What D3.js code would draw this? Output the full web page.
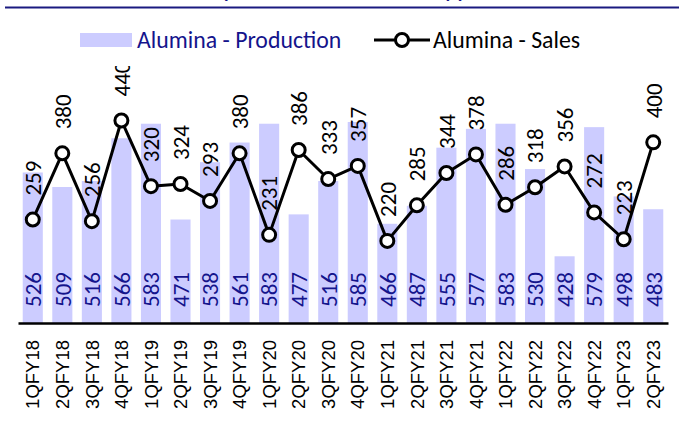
<!DOCTYPE html>
<html>
<head>
<meta charset="utf-8">
<script src="https://cdn.jsdelivr.net/npm/d3@7"></script>
<style>
  body { margin: 0; background: #fff; }
  svg { display: block; }
</style>
</head>
<body>
<svg id="chart" width="679" height="428"></svg>
<script>
// quarterly alumina numbers (kt)
var quarters = ["1QFY18", "2QFY18", "3QFY18", "4QFY18", "1QFY19", "2QFY19", "3QFY19", "4QFY19",
    "1QFY20", "2QFY20", "3QFY20", "4QFY20", "1QFY21", "2QFY21", "3QFY21", "4QFY21",
    "1QFY22", "2QFY22", "3QFY22", "4QFY22", "1QFY23", "2QFY23"];
var production = [526, 509, 516, 566, 583, 471, 538, 561, 583, 477, 516, 585, 466, 487, 555, 577, 583, 530, 428, 579, 498, 483];
var sales = [259, 380, 256, 440, 320, 324, 293, 380, 231, 386, 333, 357, 220, 285, 344, 378, 286, 318, 356, 272, 223, 400];
var seriesNames = ["Alumina - Production", "Alumina - Sales"];
var title = "Alumina production and sales \u2013 steady performance";

var W = 679, H = 428,
    plotLeft = 18, plotRight = 668, plotTop = 63, plotBottom = 323,
    barColor = "#ccccff",
    navy = "#14148c",
    calibri = "Carlito, Lato, sans-serif",
    arial = "'Liberation Sans', Arial, sans-serif";

var svg = d3.select("#chart");

var x = d3.scaleBand()
    .domain(quarters)
    .range([plotLeft, plotRight])
    .paddingInner(0.32)
    .paddingOuter(0.16);

var y = d3.scaleLinear().domain([350, 654]).range([plotBottom, plotTop]);
var y2 = d3.scaleLinear().domain([70, 545]).range([plotBottom, plotTop]);

var cx = function(d, i) { return x(quarters[i]) + x.bandwidth() / 2; };

// title (mostly cut off at the top) + rule
var titleText = svg.append("text")
    .attr("x", 0)
    .attr("y", -2)
    .attr("font-family", calibri)
    .attr("font-weight", 700)
    .attr("font-size", "20px")
    .attr("fill", navy)
    .text(title);

// only the descenders show, so line them up with the visible bits
var tn = titleText.node(),
    iP = title.indexOf("production"),
    iY = title.indexOf("steady") + 5,
    gap = tn.getStartPositionOfChar(iY).x - tn.getStartPositionOfChar(iP).x;
titleText.attr("font-size", (20 * 221 / gap) + "px");
titleText.attr("x", 224 - tn.getStartPositionOfChar(iP).x);

svg.append("line")
    .attr("x1", 5).attr("x2", W)
    .attr("y1", 7.5).attr("y2", 7.5)
    .attr("stroke", "#1a1a80")
    .attr("stroke-width", 2);

// plot area clip – the 440 label runs off the top in the original
svg.append("defs").append("clipPath").attr("id", "plot-clip")
    .append("rect")
    .attr("x", 0).attr("y", plotTop + 3)
    .attr("width", W).attr("height", H - plotTop);

var plot = svg.append("g").attr("clip-path", "url(#plot-clip)");

// bars
plot.selectAll("rect.bar")
    .data(production)
    .join("rect")
    .attr("class", "bar")
    .attr("x", function(d, i) { return x(quarters[i]); })
    .attr("width", x.bandwidth())
    .attr("y", function(d) { return y(d); })
    .attr("height", function(d) { return y.range()[0] - y(d); })
    .attr("fill", barColor);

// production labels, sitting at the foot of each bar
plot.selectAll("text.prod")
    .data(production)
    .join("text")
    .attr("class", "prod")
    .attr("transform", function(d, i) { return "translate(" + cx(d, i) + "," + (plotBottom - 16) + ") rotate(-90)"; })
    .attr("dy", "0.36em")
    .attr("font-family", calibri)
    .attr("font-size", "23px")
    .attr("fill", navy)
    .text(function(d) { return d; });

// sales labels above the points
plot.selectAll("text.sales")
    .data(sales)
    .join("text")
    .attr("class", "sales")
    .attr("transform", function(d, i) { return "translate(" + cx(d, i) + "," + (y2(d) - 24) + ") rotate(-90)"; })
    .attr("dy", "0.36em")
    .attr("font-family", calibri)
    .attr("font-size", "23px")
    .attr("fill", "#000")
    .text(function(d) { return d; });

var line = d3.line()
    .x(function(d, i) { return cx(d, i); })
    .y(function(d) { return y2(d); });

plot.append("path")
    .datum(sales)
    .attr("d", line)
    .attr("fill", "none")
    .attr("stroke", "#000")
    .attr("stroke-width", 3)
    .attr("stroke-linejoin", "round");

plot.selectAll("circle.pt")
    .data(sales)
    .join("circle")
    .attr("class", "pt")
    .attr("cx", cx)
    .attr("cy", function(d) { return y2(d); })
    .attr("r", 6.5)
    .attr("fill", "#fff")
    .attr("stroke", "#000")
    .attr("stroke-width", 3);

// category axis
var xAxis = svg.append("g")
    .attr("transform", "translate(0," + plotBottom + ")")
    .call(d3.axisBottom(x).tickSize(0).tickSizeOuter(0));

xAxis.select(".domain")
    .attr("stroke", "#000")
    .attr("stroke-width", 2.5);

xAxis.selectAll(".tick text")
    .attr("transform", "rotate(-90)")
    .attr("text-anchor", "end")
    .attr("x", -17)
    .attr("y", 0)
    .attr("dy", "0.36em")
    .attr("font-family", arial)
    .attr("font-size", "18.5px")
    .attr("fill", "#000");

// legend
var legend = svg.append("g").attr("class", "legend");

legend.append("rect")
    .attr("x", 80).attr("y", 33)
    .attr("width", 52).attr("height", 14)
    .attr("fill", barColor);

legend.append("text")
    .attr("x", 137).attr("y", 48)
    .attr("font-family", calibri)
    .attr("font-size", "23.8px")
    .attr("fill", navy)
    .text(seriesNames[0]);

legend.append("line")
    .attr("x1", 374).attr("x2", 430)
    .attr("y1", 40).attr("y2", 40)
    .attr("stroke", "#000")
    .attr("stroke-width", 3);

legend.append("circle")
    .attr("cx", 402).attr("cy", 40)
    .attr("r", 6.5)
    .attr("fill", "#fff")
    .attr("stroke", "#000")
    .attr("stroke-width", 3);

legend.append("text")
    .attr("x", 433).attr("y", 48)
    .attr("font-family", calibri)
    .attr("font-size", "23.8px")
    .attr("fill", "#000")
    .text(seriesNames[1]);
</script>
</body>
</html>
